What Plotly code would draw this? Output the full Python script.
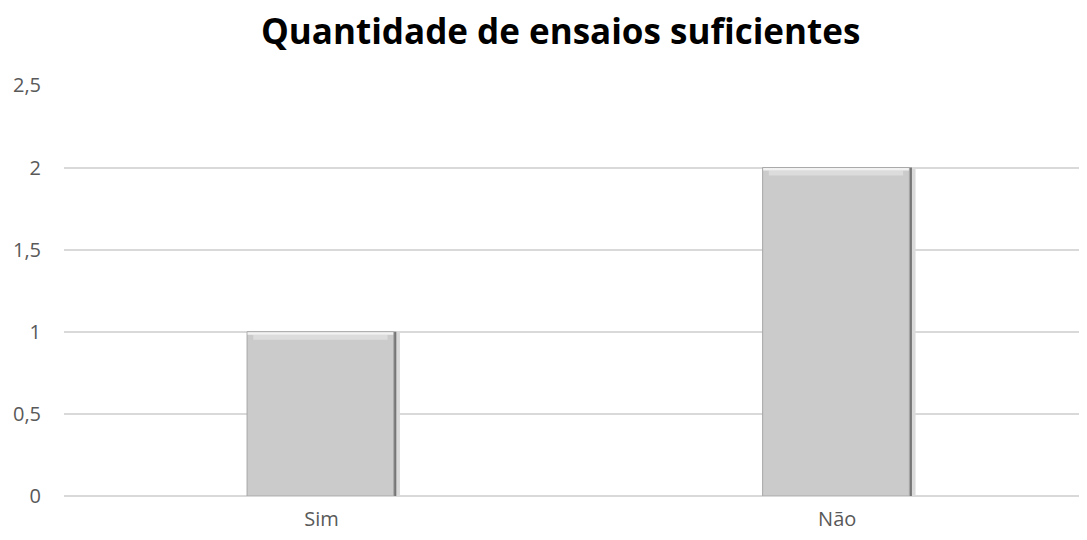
import plotly.graph_objects as go

categories = ["Sim", "Não"]
values = [1, 2]
y_ticks = [0, 0.5, 1, 1.5, 2, 2.5]

FONT = "Open Sans, sans-serif"
LEFT = -0.1445  # bar offset from category centre

fig = go.Figure()

# soft shadow
fig.add_trace(go.Bar(
    x=categories, y=values, width=0.2945, offset=LEFT + 0.002,
    marker=dict(color="#dadada", line=dict(width=0)),
    hoverinfo="skip", showlegend=False,
))
# dark right edge
fig.add_trace(go.Bar(
    x=categories, y=values, width=0.2895, offset=LEFT,
    marker=dict(color="#767676", line=dict(width=0)),
    hoverinfo="skip", showlegend=False,
))
# main face
fig.add_trace(go.Bar(
    x=categories, y=values, width=0.2845, offset=LEFT,
    marker=dict(color="#cbcbcb", line=dict(color="#a9a9a9", width=1)),
    showlegend=False,
))
# top bevel highlights
fig.add_trace(go.Bar(
    x=categories, y=[0.03] * len(values), base=[v - 0.048 for v in values],
    width=0.2845 - 0.024, offset=LEFT + 0.012,
    marker=dict(color="#dcdcdc", line=dict(width=0)),
    hoverinfo="skip", showlegend=False,
))
fig.add_trace(go.Bar(
    x=categories, y=[0.016] * len(values), base=[v - 0.018 for v in values],
    width=0.2825, offset=LEFT + 0.001,
    marker=dict(color="#f2f2f2", line=dict(width=0)),
    hoverinfo="skip", showlegend=False,
))

fig.update_layout(
    title=dict(
        text="<b>Quantidade de ensaios suficientes</b>",
        x=0.516, xanchor="center", y=0.954, yanchor="middle",
        font=dict(family=FONT, size=35, color="#000000"),
    ),
    separators=",.",
    barmode="overlay",
    plot_bgcolor="white",
    paper_bgcolor="white",
    width=1071, height=524,
    margin=dict(l=56, r=0, t=77, b=36),
    xaxis=dict(
        range=[-0.4995, 1.469], automargin=False,
        showgrid=False, showline=False, zeroline=False,
        ticks="", ticklabelstandoff=9,
        tickfont=dict(family=FONT, size=20, color="#595959"),
    ),
    yaxis=dict(
        range=[0, 2.503], tickvals=y_ticks, automargin=False,
        showgrid=True, gridcolor="#d9d9d9", gridwidth=1.5,
        zeroline=True, zerolinecolor="#d9d9d9", zerolinewidth=1.5,
        showline=False, ticks="", ticklabelstandoff=22,
        tickfont=dict(family=FONT, size=20, color="#595959"),
    ),
)

fig.write_html("out.html")
